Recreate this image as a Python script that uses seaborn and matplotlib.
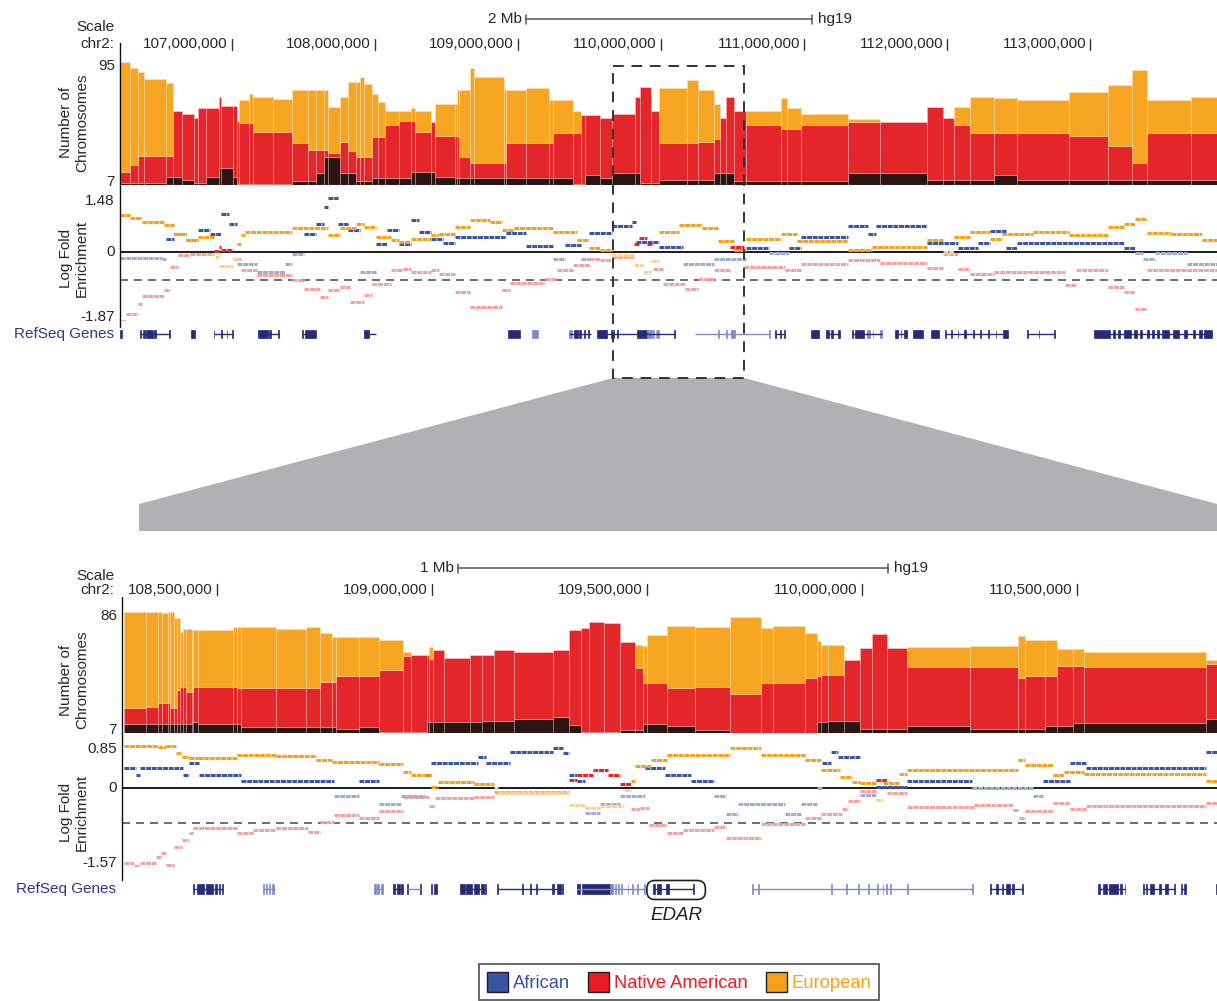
import numpy as np
import pandas as pd
import matplotlib
matplotlib.use("Agg")
import matplotlib.pyplot as plt
from matplotlib.patches import Patch, Polygon, Rectangle, FancyBboxPatch
import seaborn as sns

sns.set_style("white")
plt.rcParams["font.family"] = ["Liberation Sans", "DejaVu Sans"]

W, H = 1217, 1001
ANCESTRIES = ["African", "Native American", "European"]
AREA_COLORS = {"African": "#2b1411", "Native American": "#e4262b", "European": "#f6a623"}
TRACE_POS = {"African": "#3a55a4", "Native American": "#e4262b", "European": "#f5a31f"}
TRACE_NEG = {"African": "#a2acd5", "Native American": "#f4a3a2", "European": "#fcd38c"}
LEGEND_COLORS = {"African": "#3953a4", "Native American": "#ed1c24", "European": "#f7a11a"}
GENE_COLORS = ["#262a78", "#8189c6"]
LABEL_BLUE = "#2f3590"

# ---------------- chr2 overview (Mb) ----------------
top_xlim = (106.217, 113.888)
top_ticks = [107, 108, 109, 110, 111, 112, 113]
top_scale_start = 109.056
zoom_window = (109.665, 110.581)

top_pos = [106.217, 106.287, 106.343, 106.385, 106.539, 106.588, 106.651, 106.734, 106.762, 106.818,
           106.909, 106.923, 107.007, 107.035, 107.049, 107.119, 107.147, 107.287, 107.420, 107.532,
           107.588, 107.644, 107.672, 107.755, 107.811, 107.867, 107.895, 107.923, 107.979, 108.021,
           108.070, 108.168, 108.252, 108.280, 108.392, 108.420, 108.560, 108.574, 108.588, 108.665,
           108.693, 108.902, 108.916, 109.056, 109.217, 109.245, 109.385, 109.441, 109.469, 109.574,
           109.658, 109.818, 109.853, 109.930, 109.986, 110.182, 110.259, 110.371, 110.413, 110.455,
           110.511, 110.595, 110.839, 110.881, 110.979, 111.308, 111.532, 111.860, 111.972, 112.049,
           112.161, 112.329, 112.490, 112.853, 113.126, 113.294, 113.399, 113.706]
# upper edge of each stacked layer (number of chromosomes)
top_african_edge = [8.4, 8.4, 8.4, 8.4, 12.7, 12.7, 10.5, 8.4, 8.4, 12.7,
                    19, 19, 12.7, 8, 8, 8, 8, 8, 10, 10,
                    15.5, 27, 27, 15.5, 15.5, 10, 10, 10, 12, 12,
                    12, 12, 16, 16, 16, 12.7, 12, 12, 12, 12,
                    12, 12, 12, 12, 12, 12, 8, 8, 14, 12,
                    15.8, 15.8, 8.2, 8.2, 10.6, 10.6, 10.6, 15.8, 15.8, 15.8,
                    9.9, 9.9, 9.9, 9.9, 9.9, 15.8, 15.8, 10.6, 10.6, 10.6,
                    10.6, 14, 10.6, 10.6, 10.6, 10.6, 10.6, 10.6]
top_native_edge = [16, 21, 28, 28, 28, 60, 58, 55, 62, 62,
                   69.7, 63.6, 63.6, 53, 51, 51, 45, 45, 37, 32,
                   32, 32, 30, 38, 31, 27, 27, 27, 41, 41,
                   50, 53, 53, 45, 52, 42, 42, 42, 27, 22.6,
                   22.6, 22.6, 37, 37, 37, 44, 44, 57, 57, 55,
                   58, 70, 77, 60, 37, 37, 38, 40, 55, 69.7,
                   60, 50, 47, 47, 50, 52, 52, 63, 55, 50,
                   44, 44, 44, 42, 35, 22.6, 44, 44]
top_european_edge = [95, 90.5, 87.5, 83, 80, 60, 58, 55, 62, 62,
                     69.7, 63.6, 63.6, 53, 67.6, 72, 69.7, 68.5, 74.7, 74.7,
                     74.7, 74.7, 63, 70, 80.4, 80.4, 84, 79, 72, 66,
                     60, 60, 62, 60, 52, 65, 65, 74.7, 74.7, 90.4,
                     84, 74.7, 74.7, 76, 67.6, 67.6, 60, 57, 57, 55,
                     58, 70, 77, 60, 76, 81.8, 75, 65, 55, 69.7,
                     60, 60, 69, 62, 58, 54, 52, 63, 55, 63,
                     70, 69, 68, 73.3, 78.4, 89, 68, 70]

# log fold enrichment, step traces (segment start, value)
top_eur_pos = [106.215, 106.290, 106.373, 106.525, 106.594, 106.677, 106.760, 106.884, 106.912, 107.009,
               107.036, 107.064, 107.092, 107.423, 107.672, 107.755, 107.866, 107.921, 108.004, 108.114,
               108.170, 108.253, 108.391, 108.446, 108.557, 108.667, 108.805, 108.888, 108.971, 109.248,
               109.413, 109.496, 109.574, 109.657, 109.808, 109.877, 109.932, 109.987, 110.125, 110.290,
               110.400, 110.510, 110.593, 110.841, 110.951, 111.309, 111.474, 111.859, 111.969, 112.052,
               112.162, 112.300, 112.382, 112.603, 112.850, 113.126, 113.236, 113.318, 113.401, 113.566,
               113.786]
top_eur_lfe = [1.00, 0.90, 0.81, 0.72, 0.49, 0.31, 0.40, -0.14, -0.39, -0.20,
               0.22, 0.45, 0.54, 0.63, 0.45, 0.63, 0.76, 0.67, 0.40, 0.31,
               0.27, 0.35, 0.45, 0.49, 0.67, 0.85, 0.80, 0.58, 0.63, 0.54,
               0.31, 0.11, 0.04, -0.10, -0.35, -0.55, -0.25, 0.54, 0.72, 0.63,
               0.28, 0.04, 0.35, 0.49, 0.30, 0.04, 0.14, 0.31, -0.01, 0.40,
               0.54, 0.35, 0.47, 0.54, 0.45, 0.67, 0.76, 0.89, 0.51, 0.49,
               0.31]
top_afr_pos = [106.215, 106.511, 106.539, 106.594, 106.677, 106.760, 106.843, 106.926, 106.981, 107.036,
               107.175, 107.368, 107.423, 107.506, 107.589, 107.644, 107.672, 107.741, 107.810, 107.893,
               108.004, 108.087, 108.170, 108.253, 108.308, 108.391, 108.474, 108.557, 108.916, 109.054,
               109.248, 109.330, 109.441, 109.496, 109.657, 109.794, 109.822, 109.987, 110.152, 110.372,
               110.593, 110.758, 110.896, 110.978, 111.309, 111.446, 111.501, 111.859, 112.080, 112.217,
               112.300, 112.410, 112.492, 113.236, 113.318, 113.373, 113.456, 113.676]
top_afr_lfe = [-0.17, -0.20, 0.35, 0.49, 0.31, 0.58, 0.49, 1.03, 0.76, -0.32,
               -0.55, -0.32, -0.05, 0.49, 0.76, 1.20, 1.44, 0.76, 0.58, -0.55,
               0.22, 0.58, 0.22, 0.85, 0.54, 0.35, 0.24, 0.40, 0.51, 0.15,
               -0.19, 0.18, -0.19, 0.51, 0.69, 0.80, 0.27, 0.13, -0.32, -0.19,
               0.11, -0.02, 0.11, 0.39, 0.69, 0.49, 0.69, 0.24, 0.11, 0.24,
               0.56, 0.11, 0.24, 0.11, -0.02, -0.19, -0.02, -0.32]
top_nat_pos = [106.215, 106.262, 106.345, 106.373, 106.525, 106.566, 106.622, 106.705, 106.871, 106.912,
               106.926, 107.009, 107.064, 107.175, 107.423, 107.506, 107.617, 107.672, 107.755, 107.824,
               107.921, 107.976, 108.114, 108.197, 108.253, 108.391, 108.446, 108.557, 108.667, 108.888,
               108.944, 109.192, 109.275, 109.386, 109.496, 109.574, 109.657, 109.808, 109.849, 109.904,
               109.946, 110.014, 110.166, 110.262, 110.372, 110.483, 110.579, 110.868, 110.978, 111.309,
               111.529, 111.859, 111.969, 112.080, 112.162, 112.327, 112.823, 112.905, 113.126, 113.236,
               113.318, 113.401]
top_nat_lfe = [-1.87, -1.67, -1.40, -1.20, -1.04, -0.41, -0.10, -0.05, 0.03, 0.13,
               0.05, -0.19, -0.50, -0.64, -0.77, -1.00, -1.22, -1.04, -0.95, -1.36,
               -1.18, -0.86, -0.50, -0.46, -0.55, -0.50, -0.59, -1.10, -1.49, -1.04,
               -0.84, -0.73, -0.50, -0.37, -0.19, -0.22, -0.14, 0.22, 0.36, 0.22,
               -0.46, -0.86, -1.00, -0.73, -0.50, 0.13, -0.40, -0.48, -0.34, -0.22,
               -0.29, -0.43, -0.05, -0.46, -0.59, -0.55, -0.91, -0.50, -0.95, -1.09,
               -1.54, -0.50]
top_threshold = -0.75

top_gene_spans = [(106.359, 106.566, 0), (106.871, 107.009, 0), (107.180, 107.327, 0), (107.492, 107.589, 0),
                  (107.921, 108.004, 0), (109.358, 109.510, 0), (109.574, 110.097, 0), (110.235, 110.758, 1),
                  (110.799, 110.868, 0), (111.157, 111.253, 0), (111.336, 111.543, 0), (111.639, 111.721, 0),
                  (111.983, 112.424, 0), (112.561, 112.754, 0), (113.029, 113.855, 0)]
top_gene_exons = [(106.215, 106.229, 0), (106.359, 106.363, 0), (106.376, 106.392, 0), (106.397, 106.425, 0),
                  (106.430, 106.446, 0), (106.452, 106.470, 0), (106.562, 106.566, 0), (106.710, 106.738, 0),
                  (106.871, 106.876, 0), (106.924, 106.930, 0), (106.964, 106.968, 0), (107.003, 107.009, 0),
                  (107.180, 107.200, 0), (107.205, 107.250, 0), (107.256, 107.270, 0), (107.322, 107.327, 0),
                  (107.492, 107.500, 0), (107.510, 107.589, 0), (107.925, 107.935, 0), (107.940, 107.960, 0),
                  (108.930, 109.013, 0), (109.095, 109.137, 1), (109.358, 109.375, 1), (109.392, 109.420, 0),
                  (109.430, 109.438, 0), (109.462, 109.470, 0), (109.488, 109.500, 0), (109.552, 109.620, 0),
                  (109.574, 109.580, 0), (109.600, 109.615, 0), (109.648, 109.655, 0), (109.662, 109.668, 0),
                  (109.690, 109.700, 0), (109.835, 109.905, 0), (109.905, 109.935, 1), (109.945, 109.950, 1),
                  (109.962, 109.968, 1), (109.975, 109.985, 1), (110.092, 110.097, 0), (110.400, 110.405, 1),
                  (110.455, 110.460, 1), (110.490, 110.520, 1), (110.755, 110.760, 1), (110.799, 110.806, 0),
                  (110.830, 110.836, 0), (110.860, 110.868, 0), (111.047, 111.102, 0), (111.157, 111.175, 0),
                  (111.190, 111.200, 0), (111.240, 111.253, 0), (111.336, 111.345, 0), (111.355, 111.420, 0),
                  (111.440, 111.460, 1), (111.480, 111.485, 1), (111.530, 111.543, 1), (111.639, 111.660, 0),
                  (111.675, 111.680, 0), (111.700, 111.721, 0), (111.763, 111.832, 0), (111.887, 111.942, 0),
                  (111.983, 111.990, 0), (112.030, 112.036, 0), (112.075, 112.080, 0), (112.120, 112.130, 0),
                  (112.180, 112.186, 0), (112.230, 112.236, 0), (112.290, 112.296, 0), (112.340, 112.346, 0),
                  (112.390, 112.424, 0), (112.561, 112.566, 0), (112.640, 112.646, 0), (112.750, 112.754, 0),
                  (113.029, 113.140, 0), (113.160, 113.175, 0), (113.195, 113.210, 0), (113.235, 113.290, 0),
                  (113.310, 113.330, 0), (113.350, 113.365, 0), (113.400, 113.412, 0), (113.430, 113.445, 0),
                  (113.470, 113.480, 0), (113.505, 113.550, 0), (113.580, 113.625, 0), (113.660, 113.680, 0),
                  (113.720, 113.735, 0), (113.760, 113.780, 0), (113.800, 113.855, 0)]

# ---------------- EDAR region (Mb) ----------------
bot_xlim = (108.279, 110.826)
bot_ticks = [108.5, 109.0, 109.5, 110.0, 110.5]
bot_scale_start = 109.060

bot_pos = [108.283, 108.335, 108.363, 108.372, 108.386, 108.390, 108.399, 108.407, 108.413, 108.422,
           108.427, 108.441, 108.445, 108.455, 108.537, 108.547, 108.556, 108.638, 108.707, 108.740,
           108.767, 108.776, 108.831, 108.877, 108.933, 108.951, 108.988, 108.992, 109.002, 109.029,
           109.089, 109.116, 109.144, 109.190, 109.282, 109.319, 109.346, 109.365, 109.401, 109.437,
           109.473, 109.490, 109.501, 109.547, 109.611, 109.693, 109.766, 109.794, 109.867, 109.895,
           109.904, 109.922, 109.959, 109.995, 110.023, 110.059, 110.105, 110.252, 110.362, 110.380,
           110.426, 110.453, 110.490, 110.517, 110.801]
bot_african_edge = [13.0, 13.0, 13.0, 13.0, 13.0, 13.0, 13.0, 13.0, 13.0, 13.0,
                    13.0, 14.6, 14.6, 13.0, 13.0, 13.0, 11.3, 11.3, 11.3, 11.3,
                    11.3, 9.6, 11.3, 8.1, 8.1, 8.1, 14.6, 14.6, 14.6, 14.6,
                    14.6, 15.2, 15.2, 16.1, 17.8, 12.4, 8.1, 8.1, 8.1, 9.2,
                    9.2, 13.0, 13.0, 11.8, 9.2, 7.5, 7.5, 7.5, 7.5, 14.6,
                    14.6, 15.2, 15.2, 9.9, 9.9, 9.9, 11.8, 9.9, 9.9, 9.9,
                    11.8, 11.8, 14, 14, 16.1]
bot_native_edge = [23.2, 24.3, 26.4, 26.4, 26.4, 23.2, 23.2, 35.1, 37.3, 37.3,
                   34, 34, 36.9, 36.9, 36.9, 36.2, 36.2, 36.2, 36.2, 40.6,
                   40.6, 44.3, 44.3, 48.2, 56.9, 57.9, 57.9, 55, 61.2, 56.1,
                   57.6, 57.6, 61.2, 60, 61.2, 74.1, 75.2, 79.5, 78.4, 66.6,
                   49.3, 40, 39.4, 36.2, 37.3, 32.4, 39.4, 39.4, 43, 44,
                   45, 45, 54.7, 62.3, 71.6, 62.3, 49.8, 49.8, 42.9, 44,
                   44, 50.9, 50.9, 50.2, 52.2]
bot_european_edge = [86, 86, 86, 85, 86, 86, 81.7, 81.7, 73.0, 74.6,
                     74.6, 74.1, 74.1, 74.1, 76.3, 76.3, 76.3, 74.6, 76.3, 72,
                     69.4, 69.4, 69.4, 67.7, 60, 57.9, 57.9, 62.9, 61.2, 56.1,
                     57.6, 57.6, 61.2, 60, 61.2, 74.1, 75.2, 79.5, 78.4, 66.6,
                     64.5, 63.4, 71, 76.9, 76.3, 82.8, 75.2, 76.9, 72, 67,
                     64.5, 64.5, 54.7, 62.3, 71.6, 62.3, 62.9, 63.4, 70.2, 67.7,
                     67.7, 61.7, 61.7, 59.5, 54.7]

bot_eur_pos = [108.283, 108.363, 108.381, 108.404, 108.418, 108.436, 108.455, 108.547, 108.638, 108.730,
               108.767, 108.877, 108.933, 108.951, 108.997, 109.015, 109.098, 109.144, 109.153, 109.319,
               109.355, 109.391, 109.446, 109.464, 109.473, 109.510, 109.547, 109.693, 109.766, 109.867,
               109.904, 109.950, 109.977, 109.995, 110.032, 110.050, 110.087, 110.105, 110.362, 110.380,
               110.444, 110.471, 110.517, 110.801]
bot_eur_lfe = [0.83, 0.80, 0.82, 0.68, 0.60, 0.58, 0.59, 0.64, 0.63, 0.55,
               0.51, 0.46, 0.30, 0.25, 0.02, 0.12, 0.07, -0.01, -0.11, -0.34,
               -0.41, -0.37, -0.05, 0.13, 0.42, 0.55, 0.64, 0.78, 0.64, 0.55,
               0.35, 0.22, 0.12, 0.09, -0.24, 0.09, 0.28, 0.35, 0.55, 0.45,
               0.26, 0.30, 0.27, 0.13]
bot_afr_pos = [108.283, 108.312, 108.321, 108.422, 108.436, 108.459, 108.556, 108.772, 108.831, 108.877,
               108.928, 108.983, 108.997, 109.107, 109.126, 109.181, 109.282, 109.305, 109.319, 109.337,
               109.355, 109.391, 109.437, 109.496, 109.542, 109.602, 109.657, 109.684, 109.711, 109.821,
               109.858, 109.895, 109.908, 109.927, 109.945, 109.995, 110.032, 110.105, 110.256, 110.398,
               110.421, 110.485, 110.522, 110.801]
bot_afr_lfe = [0.38, 0.26, 0.38, 0.26, 0.49, 0.26, 0.13, -0.16, 0.13, -0.33,
               -0.16, 0.26, 0.49, 0.60, 0.49, 0.70, 0.78, 0.69, 0.26, 0.13,
               -0.50, -0.32, -0.16, 0.38, 0.26, 0.13, -0.16, -0.52, -0.32, -0.52,
               -0.32, -0.01, 0.49, 0.70, 0.60, -0.15, 0.01, 0.13, -0.01, -0.16,
               0.13, 0.49, 0.38, 0.70]
bot_nat_pos = [108.283, 108.308, 108.321, 108.358, 108.370, 108.381, 108.399, 108.418, 108.436, 108.445,
               108.547, 108.583, 108.638, 108.712, 108.740, 108.772, 108.831, 108.877, 108.933, 108.992,
               109.006, 109.098, 109.144, 109.319, 109.337, 109.374, 109.409, 109.437, 109.464, 109.483,
               109.505, 109.547, 109.583, 109.657, 109.684, 109.766, 109.867, 109.904, 109.954, 109.968,
               109.995, 110.032, 110.059, 110.105, 110.261, 110.352, 110.366, 110.380, 110.444, 110.485,
               110.522, 110.801]
bot_nat_lfe = [-1.48, -1.54, -1.48, -1.36, -1.29, -1.52, -1.16, -1.03, -0.90, -0.80,
               -0.90, -0.83, -0.80, -0.87, -0.67, -0.54, -0.60, -0.46, -0.19, -0.37,
               -0.21, -0.18, -0.09, 0.15, 0.25, 0.34, 0.26, 0.07, -0.43, -0.41,
               -0.74, -0.89, -0.83, -0.78, -0.99, -0.72, -0.60, -0.52, -0.43, -0.26,
               -0.06, 0.15, -0.11, -0.39, -0.34, -0.44, -0.60, -0.45, -0.31, -0.43,
               -0.36, -0.31]
bot_threshold = -0.70

bot_gene_spans = [(108.443, 108.514, 0), (108.606, 108.634, 1), (108.866, 108.887, 1), (108.910, 108.933, 0),
                  (108.942, 108.974, 1), (109.066, 109.126, 0), (109.151, 109.305, 0), (109.337, 109.496, 1),
                  (109.515, 109.609, 0), (109.744, 110.259, 1), (110.297, 110.375, 0), (110.549, 110.613, 0),
                  (110.653, 110.728, 0), (110.742, 110.754, 0)]
bot_gene_exons = [(108.443, 108.447, 0), (108.453, 108.470, 0), (108.475, 108.491, 0), (108.496, 108.500, 0),
                  (108.505, 108.507, 0), (108.512, 108.514, 0), (108.607, 108.610, 1), (108.614, 108.617, 1),
                  (108.621, 108.624, 1), (108.628, 108.633, 1), (108.866, 108.869, 1), (108.873, 108.877, 1),
                  (108.881, 108.887, 1), (108.910, 108.913, 0), (108.918, 108.926, 0), (108.929, 108.933, 0),
                  (108.942, 108.944, 0), (108.972, 108.974, 0), (108.997, 109.000, 0), (109.004, 109.011, 0),
                  (109.066, 109.076, 0), (109.080, 109.094, 0), (109.098, 109.110, 0), (109.114, 109.120, 0),
                  (109.123, 109.126, 0), (109.151, 109.153, 0), (109.210, 109.212, 0), (109.229, 109.231, 0),
                  (109.243, 109.245, 0), (109.280, 109.283, 0), (109.290, 109.300, 0), (109.303, 109.305, 0),
                  (109.337, 109.345, 0), (109.350, 109.414, 0), (109.414, 109.421, 1), (109.425, 109.427, 1),
                  (109.432, 109.434, 1), (109.440, 109.442, 1), (109.455, 109.457, 1), (109.465, 109.467, 1),
                  (109.478, 109.480, 1), (109.494, 109.496, 1), (109.515, 109.518, 0), (109.523, 109.532, 0),
                  (109.545, 109.551, 0), (109.607, 109.609, 0), (109.744, 109.747, 1), (109.758, 109.760, 1),
                  (109.929, 109.931, 1), (109.963, 109.965, 1), (109.991, 109.993, 1), (110.015, 110.017, 1),
                  (110.036, 110.038, 1), (110.048, 110.050, 1), (110.057, 110.059, 1), (110.066, 110.068, 1),
                  (110.105, 110.107, 1), (110.257, 110.259, 1), (110.297, 110.300, 0), (110.312, 110.316, 0),
                  (110.325, 110.329, 0), (110.336, 110.345, 0), (110.350, 110.354, 0), (110.372, 110.375, 0),
                  (110.549, 110.553, 0), (110.560, 110.570, 0), (110.575, 110.595, 0), (110.600, 110.606, 0),
                  (110.611, 110.613, 0), (110.653, 110.656, 0), (110.660, 110.663, 0), (110.670, 110.680, 0),
                  (110.690, 110.696, 0), (110.706, 110.712, 0), (110.726, 110.728, 0), (110.742, 110.745, 0),
                  (110.750, 110.754, 0), (110.823, 110.826, 0)]
edar_box = (109.500, 109.636)

# ---------------- drawing ----------------
FS = 11
fig = plt.figure(figsize=(W / 100, H / 100), dpi=100)


def px_axes(x0, y0, x1, y1, **kw):
    return fig.add_axes([x0 / W, 1 - y1 / H, (x1 - x0) / W, (y1 - y0) / H], **kw)


def x_px(ax, x):
    return ax.transData.transform((x, 0))[0]


def left_label(ax, text, y, dy=0, **kw):
    ax.annotate(text, xy=(0, y), xycoords=("axes fraction", "data"), xytext=(-5, dy),
                textcoords="offset pixels", ha="right", va="center", fontsize=FS,
                annotation_clip=False, **kw)


def draw_area(ax, xlim, pos, afr, nat, eur, ylim):
    afr, nat, eur = map(np.asarray, (afr, nat, eur))
    edges = [float(e) for e in pos] + [xlim[1]]
    df = pd.DataFrame({
        "pos": np.tile(pos, 3),
        "chromosomes": np.concatenate([afr, nat - afr, eur - nat]),
        "ancestry": np.repeat(ANCESTRIES, len(pos)),
    })
    # seaborn stacks the last hue level at the bottom; faint pale seams between bins
    sns.histplot(data=df, x="pos", weights="chromosomes", hue="ancestry",
                 hue_order=ANCESTRIES[::-1], bins=edges, multiple="stack", element="bars",
                 stat="count", palette=AREA_COLORS, alpha=1, linewidth=0.5,
                 edgecolor=(1, 1, 1, 0.28), legend=False, ax=ax)
    ax.set_xlim(xlim)
    ax.set_ylim(ylim)
    ax.set_axis_off()
    left_label(ax, f"{ylim[1]:g}", ylim[1], dy=-4)
    left_label(ax, f"{ylim[0]:g}", ylim[0], dy=3)


def draw_trace(ax, pos, vals, end, anc):
    pos, vals = np.asarray(pos), np.asarray(vals)
    ends = np.append(pos[1:], end)
    colors = [TRACE_POS[anc] if v >= 0 else TRACE_NEG[anc] for v in vals]
    ax.hlines(vals, pos, ends, colors=colors, linewidth=2.2,
              linestyles=[(0, (1.6, 0.25))], zorder=3)


def draw_enrichment(ax, xlim, ylim, traces, threshold, top_label, bottom_label):
    ax.set_xlim(xlim)
    ax.set_ylim(ylim)
    ax.set_axis_off()
    ax.axhline(0, color="#1a1a1a", lw=1.4, zorder=2)
    ax.axhline(threshold, color="#555555", lw=1.2, ls=(0, (4.8, 3.6)), zorder=1)
    for anc in ["Native American", "African", "European"]:
        p, v = traces[anc]
        draw_trace(ax, p, v, xlim[1], anc)
    left_label(ax, top_label, ylim[1], dy=-4)
    left_label(ax, "0", 0)
    left_label(ax, bottom_label, ylim[0], dy=4)


def draw_genes(ax, xlim, spans, exons):
    ax.set_xlim(xlim)
    ax.set_ylim(-1, 1)
    ax.set_axis_off()
    for s, e, shade in spans:
        ax.plot([s, e], [0, 0], color=GENE_COLORS[shade], lw=1.0, solid_capstyle="butt")
    for s, e, shade in exons:
        ax.add_patch(Rectangle((s, -0.6), e - s, 1.2, facecolor=GENE_COLORS[shade],
                               edgecolor=GENE_COLORS[shade], lw=0.5))
    ax.annotate("RefSeq Genes", xy=(0, 0), xycoords=("axes fraction", "data"), xytext=(-6, 0),
                textcoords="offset pixels", ha="right", va="center", fontsize=FS,
                color=LABEL_BLUE, annotation_clip=False)


# overview panel
ax_ta = px_axes(120, 61.7, W, 185)
draw_area(ax_ta, top_xlim, top_pos, top_african_edge, top_native_edge, top_european_edge, (7, 95))
ax_te = px_axes(120, 197, W, 321)
draw_enrichment(ax_te, top_xlim, (-1.87, 1.48),
                {"European": (top_eur_pos, top_eur_lfe), "African": (top_afr_pos, top_afr_lfe),
                 "Native American": (top_nat_pos, top_nat_lfe)},
                top_threshold, "1.48", "-1.87")
ax_tg = px_axes(120, 327, W, 341)
draw_genes(ax_tg, top_xlim, top_gene_spans, top_gene_exons)

# EDAR panel
ax_ba = px_axes(122, 611.7, W, 733.3)
draw_area(ax_ba, bot_xlim, bot_pos, bot_african_edge, bot_native_edge, bot_european_edge, (7, 86))
ax_be = px_axes(122, 744.6, W, 867.3)
draw_enrichment(ax_be, bot_xlim, (-1.57, 0.85),
                {"European": (bot_eur_pos, bot_eur_lfe), "African": (bot_afr_pos, bot_afr_lfe),
                 "Native American": (bot_nat_pos, bot_nat_lfe)},
                bot_threshold, "0.85", "-1.57")
ax_bg = px_axes(122, 881, W, 897)
draw_genes(ax_bg, bot_xlim, bot_gene_spans, bot_gene_exons)

# overlay in image pixels for rulers, axis titles and the zoom connector
ov = fig.add_axes([0, 0, 1, 1], zorder=5)
ov.set_xlim(0, W)
ov.set_ylim(H, 0)
ov.set_axis_off()
ov.patch.set_alpha(0)


def ruler(ax, ticks, y):
    for t in ticks:
        xp = x_px(ax, t)
        ov.plot([xp, xp], [y - 5.5, y + 5.5], color="#333333", lw=1.0)
        ov.text(xp - 4, y, f"{round(t * 1e6):,}", ha="right", va="center", fontsize=FS)


def scale_bar(ax, start, length, y, label):
    xs, xe = x_px(ax, start), x_px(ax, start + length)
    ov.plot([xs, xe], [y, y], color="#555555", lw=1.1)
    for xp in (xs, xe):
        ov.plot([xp, xp], [y - 4.5, y + 4.5], color="#555555", lw=1.1)
    ov.text(xs - 4, y, label, ha="right", va="center", fontsize=FS)
    ov.text(xe + 6, y, "hg19", ha="left", va="center", fontsize=FS)


for ax_area, ticks, y_scale, y_ruler, start, length, lab, x_axis, yt in [
        (ax_ta, top_ticks, 19, 44, top_scale_start, 2, "2 Mb", 119.5, (43, 327)),
        (ax_ba, bot_ticks, 568, 589.5, bot_scale_start, 1, "1 Mb", 122, (597, 880))]:
    scale_bar(ax_area, start, length, y_scale, lab)
    ruler(ax_area, ticks, y_ruler)
    ov.text(114, y_scale + 8, "Scale", ha="right", va="center", fontsize=FS)
    ov.text(114, y_ruler, "chr2:", ha="right", va="center", fontsize=FS)
    ov.plot([x_axis, x_axis], list(yt), color="#111111", lw=1.0)

for yc, txt in [(122.5, "Number of\nChromosomes"), (258.5, "Log Fold\nEnrichment"),
                (680, "Number of\nChromosomes"), (812, "Log Fold\nEnrichment")]:
    ov.text(74, yc, txt, rotation=90, ha="center", va="center", fontsize=FS, linespacing=1.15)

# zoomed window and connector
zx0, zx1 = x_px(ax_ta, zoom_window[0]), x_px(ax_ta, zoom_window[1])
ov.add_patch(Polygon([(zx0, 378), (zx1, 378), (W, 504), (W, 531), (139, 531), (139, 504)],
                     closed=True, facecolor="#b1b1b4", edgecolor="none"))
ov.add_patch(Rectangle((zx0, 66), zx1 - zx0, 312, fill=False, edgecolor="#333333", lw=1.4,
                       ls=(0, (5.5, 4))))

# EDAR highlight
ex0, ex1 = x_px(ax_bg, edar_box[0]), x_px(ax_bg, edar_box[1])
ov.add_patch(FancyBboxPatch((ex0, 880.5), ex1 - ex0, 19, boxstyle="round,pad=0,rounding_size=8",
                            fill=False, edgecolor="#231f20", lw=1.2))
ov.text((ex0 + ex1) / 2, 915, "EDAR", style="italic", ha="center", va="center",
        fontsize=13.5, color="#231f20")

# legend
handles = [Patch(facecolor=LEGEND_COLORS[a], edgecolor="#231f20", linewidth=1.0, label=a)
           for a in ANCESTRIES]
leg = fig.legend(handles=handles, loc="upper center", bbox_to_anchor=(679 / W, 1 - 963.5 / H),
                 ncol=3, frameon=True, fancybox=False, edgecolor="#333333", fontsize=13.2,
                 handlelength=1.15, handleheight=1.3, handletextpad=0.25, columnspacing=1.0,
                 borderpad=0.45, borderaxespad=0)
leg.get_frame().set_linewidth(1.3)
for t, a in zip(leg.get_texts(), ANCESTRIES):
    t.set_color(LEGEND_COLORS[a])

fig.savefig("out.png", dpi=100)
